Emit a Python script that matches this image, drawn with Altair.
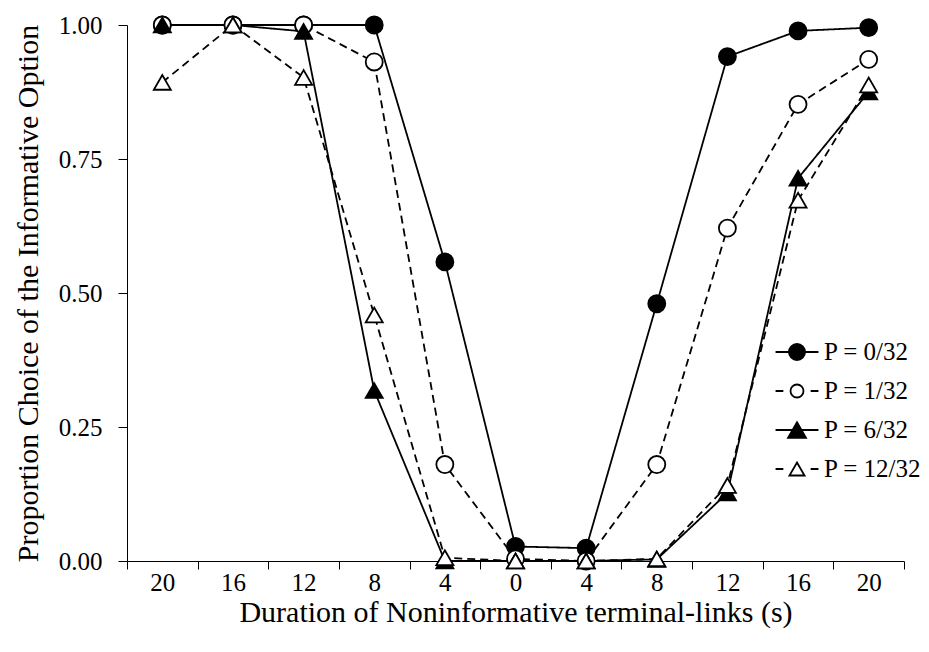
import altair as alt
import pandas as pd

# ---- data ----
x_positions = [-20, -16, -12, -8, -4, 0, 4, 8, 12, 16, 20]   # left side = negative, labels show absolute value
series_names = ["P = 0/32", "P = 1/32", "P = 6/32", "P = 12/32"]
p0_values = [1.00, 1.00, 1.00, 1.00, 0.558, 0.027, 0.024, 0.480, 0.941, 0.989, 0.995]
p1_values = [1.00, 1.00, 1.00, 0.931, 0.180, 0.004, 0.000, 0.180, 0.621, 0.852, 0.936]
p6_values = [1.00, 1.00, 0.988, 0.318, 0.000, 0.000, 0.000, 0.003, 0.127, 0.714, 0.875]
p12_values = [0.893, 1.00, 0.902, 0.459, 0.006, 0.000, 0.000, 0.004, 0.141, 0.673, 0.888]
y_ticks = [0.0, 0.25, 0.5, 0.75, 1.0]

rows = []
for name, vals in zip(series_names, [p0_values, p1_values, p6_values, p12_values]):
    for xv, yv in zip(x_positions, vals):
        rows.append({"x": xv, "y": yv, "series": name})
df = pd.DataFrame(rows)

FONT = "Liberation Serif"

# legend symbol paths (unit coordinates; line stubs + marker)
circ = "M0.62,0A0.62,0.62 0 1,1 -0.62,0A0.62,0.62 0 1,1 0.62,0Z"
circ_s = "M0.5,0A0.5,0.5 0 1,1 -0.5,0A0.5,0.5 0 1,1 0.5,0Z"
tri = "M0,-0.6L0.69,0.6L-0.69,0.6Z"
tri_s = "M0,-0.5L0.58,0.5L-0.58,0.5Z"
solid_line = "M-1.65,0L1.65,0"
dash_line = "M-1.65,0L-1.05,0M1.05,0L1.65,0"
legend_paths = [solid_line + circ, dash_line + circ_s, solid_line + tri, dash_line + tri_s]

fills = ["black", "white", "black", "white"]

x_enc = alt.X(
    "x:O",
    sort=x_positions,
    scale=alt.Scale(type="band", paddingInner=0, paddingOuter=0),
    bandPosition=0.5,
    title="Duration of Noninformative terminal-links (s)",
    axis=alt.Axis(
        tickBand="extent",
        labelExpr="isValid(datum.value) ? abs(datum.value) : ''",
        labelAngle=0,
        labelFont=FONT,
        labelFontSize=25,
        labelColor="black",
        labelPadding=1,
        tickSize=8,
        tickColor="black",
        domainColor="black",
        titleFont=FONT,
        titleFontSize=30,
        titleFontWeight="normal",
        titleColor="black",
        titleY=51,
        titleBaseline="middle",
    ),
)
y_enc = alt.Y(
    "y:Q",
    scale=alt.Scale(domain=[0, 1], nice=False),
    title="Proportion Choice of the Informative Option",
    axis=alt.Axis(
        values=y_ticks,
        format=".2f",
        grid=False,
        labelFont=FONT,
        labelFontSize=25,
        labelColor="black",
        labelPadding=16,
        tickSize=9,
        tickColor="black",
        domainColor="black",
        titleFont=FONT,
        titleFontSize=30,
        titleFontWeight="normal",
        titleColor="black",
        titleX=-99,
        titleBaseline="middle",
    ),
)

base = alt.Chart(df)

lines = base.mark_line(color="black", strokeWidth=1.8).encode(
    x=x_enc,
    y=y_enc,
    detail="series:N",
    strokeDash=alt.StrokeDash(
        "series:N",
        scale=alt.Scale(domain=series_names, range=[[1, 0], [8, 5], [1, 0], [8, 5]]),
        legend=None,
    ),
)

points = base.mark_point(filled=True, size=290, stroke="black", strokeWidth=1.8, opacity=1).encode(
    x=x_enc,
    y=y_enc,
    shape=alt.Shape(
        "series:N",
        scale=alt.Scale(domain=series_names, range=["circle", "circle", "triangle-up", "triangle-up"]),
        legend=None,
    ),
    fill=alt.Fill("series:N", scale=alt.Scale(domain=series_names, range=fills), legend=None),
)

legend_cfg = dict(
    orient="none",
    legendX=656,
    legendY=313,
    title=None,
    padding=0,
    symbolSize=676,
    symbolStrokeColor="black",
    symbolStrokeWidth=1.8,
    symbolOpacity=1,
    labelFont=FONT,
    labelFontSize=25,
    labelColor="black",
    labelOffset=13,
    rowPadding=12,
)

legend_layer = base.mark_point(
    filled=True, opacity=0, size=10, strokeWidth=1.8
).encode(
    x=x_enc,
    y=y_enc,
    shape=alt.Shape(
        "series:N",
        scale=alt.Scale(domain=series_names, range=legend_paths),
        legend=alt.Legend(**legend_cfg),
    ),
    fill=alt.Fill(
        "series:N",
        scale=alt.Scale(domain=series_names, range=fills),
        legend=alt.Legend(**legend_cfg),
    ),
    stroke=alt.Stroke(
        "series:N",
        scale=alt.Scale(domain=series_names, range=["black", "black", "black", "black"]),
        legend=alt.Legend(**legend_cfg),
    ),
)

chart = (
    alt.layer(lines, points, legend_layer)
    .resolve_scale(shape="independent", fill="independent", stroke="independent")
    .properties(
        width=777,
        height=536,
        autosize=alt.AutoSizeParams(type="none"),
        padding={"left": 127, "top": 25, "right": 25, "bottom": 91},
        background="white",
    )
    .configure_view(stroke=None)
)

chart.save("out.html", embed_options={"renderer": "svg", "actions": False})
